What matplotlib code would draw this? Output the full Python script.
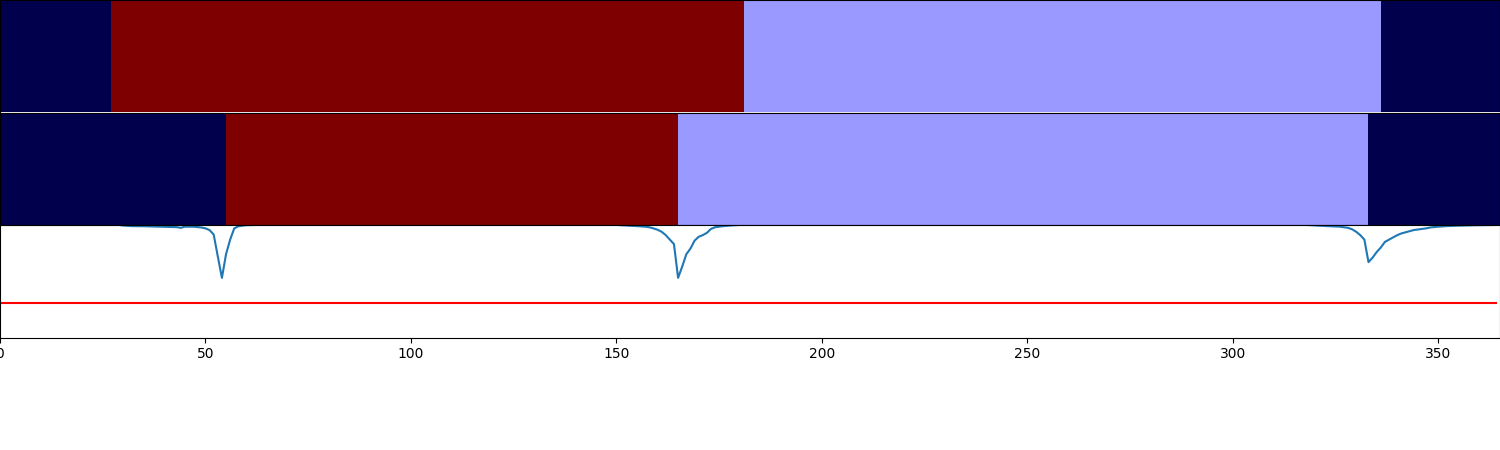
import matplotlib
matplotlib.use("Agg")
import matplotlib.pyplot as plt
from matplotlib.colors import ListedColormap
import numpy as np

# Segmentations: change points (day) and state of each segment
bounds_a = [0, 27, 181, 336, 365]
states_a = [0, 1, 2, 0]
bounds_b = [0, 55, 165, 333, 365]
states_b = [0, 1, 2, 0]

# Score curve, read at its corners (straight between them)
score_days = [0, 29, 30, 32, 35, 40, 43, 44, 45, 47, 48, 49, 50, 51, 52, 53, 54, 55, 56, 57,
              58, 59, 60, 62, 150, 152, 155, 157, 158, 159, 160, 161, 162, 163, 164, 165, 166,
              167, 168, 169, 170, 171, 172, 173, 174, 176, 178, 180, 318, 320, 323, 325, 326,
              327, 328, 329, 330, 331, 332, 333, 334, 335, 336, 337, 338, 339, 340, 341, 342,
              343, 344, 345, 346, 347, 348, 349, 350, 352, 354, 356, 358, 360, 362, 364]
score_vals = [1.0, 1.0, 0.995, 0.99, 0.989, 0.984, 0.981, 0.975, 0.985, 0.985, 0.982, 0.978,
              0.97, 0.955, 0.915, 0.72, 0.53, 0.74, 0.87, 0.97,
              0.988, 0.994, 0.998, 1.0, 1.0, 0.996, 0.99, 0.985, 0.98, 0.97, 0.958, 0.94,
              0.91, 0.87, 0.83, 0.53, 0.63,
              0.74, 0.79, 0.86, 0.895, 0.91, 0.93, 0.965, 0.98, 0.99, 0.996, 1.0, 1.0,
              0.996, 0.99, 0.987, 0.985,
              0.98, 0.975, 0.962, 0.94, 0.91, 0.87, 0.67, 0.71, 0.76, 0.8, 0.85, 0.87,
              0.89, 0.91, 0.925, 0.935,
              0.945, 0.955, 0.96, 0.965, 0.97, 0.978, 0.982, 0.985, 0.99, 0.993, 0.995,
              0.997, 0.998, 0.999, 1.0]
threshold_days = [0, 364]
threshold = 0.305

seis = plt.cm.seismic
cmap = ListedColormap([seis(0.0), seis(1.0), seis(0.4)])

fig, axes = plt.subplots(3, 1, figsize=(15, 4.5), dpi=100, sharex=True)
plt.subplots_adjust(left=0, right=1, top=1, bottom=0.25, hspace=0)

for ax, bounds, states in [(axes[0], bounds_a, states_a), (axes[1], bounds_b, states_b)]:
    row = np.repeat(states, np.diff(bounds))[np.newaxis, :]
    ax.imshow(row, aspect="auto", cmap=cmap, vmin=-0.5, vmax=2.5,
              extent=(bounds[0], bounds[-1], 0, 1), interpolation="nearest")
    ax.tick_params(bottom=False, labelbottom=False, left=False, labelleft=False)

ax = axes[2]
ax.plot(score_days, score_vals)
ax.plot(threshold_days, [threshold, threshold], color="r")
ax.set_ylim(0, 1)
ax.set_xlim(0, 365)
ax.set_xticks([0, 50, 100, 150, 200, 250, 300, 350])
# y labels would sit outside the canvas anyway
ax.tick_params(left=False, labelleft=False)

plt.savefig("out.png")
